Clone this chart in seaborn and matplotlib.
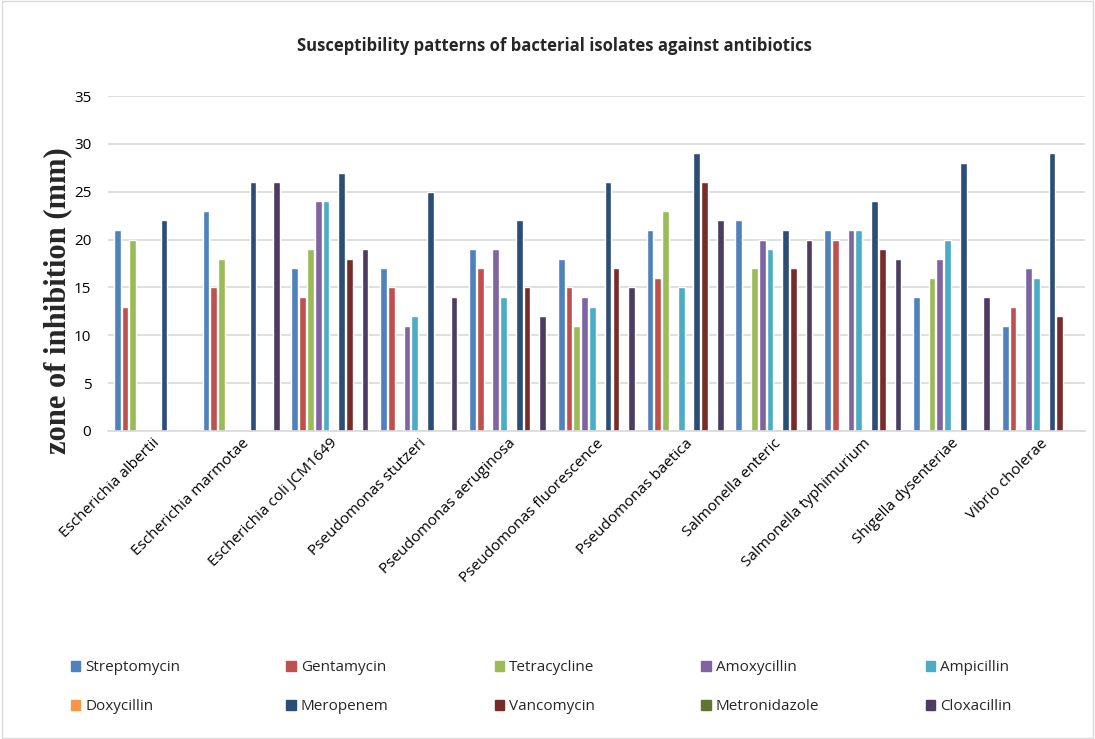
import pandas as pd
import matplotlib.pyplot as plt
import seaborn as sns
from matplotlib.patches import Rectangle

isolates = ["Escherichia albertii", "Escherichia marmotae", "Escherichia coli JCM1649",
            "Pseudomonas stutzeri", "Pseudomonas aeruginosa", "Pseudomonas fluorescence",
            "Pseudomonas baetica", "Salmonella enteric", "Salmonella typhimurium",
            "Shigella dysenteriae", "Vibrio cholerae"]

streptomycin = [21, 23, 17, 17, 19, 18, 21, 22, 21, 14, 11]
gentamycin = [13, 15, 14, 15, 17, 15, 16, 0, 20, 0, 13]
tetracycline = [20, 18, 19, 0, 0, 11, 23, 17, 0, 16, 0]
amoxycillin = [0, 0, 24, 11, 19, 14, 0, 20, 21, 18, 17]
ampicillin = [0, 0, 24, 12, 14, 13, 15, 19, 21, 20, 16]
doxycillin = [0, 0, 0, 0, 0, 0, 0, 0, 0, 0, 0]
meropenem = [22, 26, 27, 25, 22, 26, 29, 21, 24, 28, 29]
vancomycin = [0, 0, 18, 0, 15, 17, 26, 17, 19, 0, 12]
metronidazole = [0, 0, 0, 0, 0, 0, 0, 0, 0, 0, 0]
cloxacillin = [0, 26, 19, 14, 12, 15, 22, 20, 18, 14, 0]

antibiotics = ["Streptomycin", "Gentamycin", "Tetracycline", "Amoxycillin", "Ampicillin",
               "Doxycillin", "Meropenem", "Vancomycin", "Metronidazole", "Cloxacillin"]
series = [streptomycin, gentamycin, tetracycline, amoxycillin, ampicillin,
          doxycillin, meropenem, vancomycin, metronidazole, cloxacillin]
colors = ["#4F81BD", "#C0504D", "#9BBB59", "#8064A2", "#4BACC6",
          "#F79646", "#2C4D75", "#772C2A", "#5F7530", "#4D3B62"]

rows = []
for name, vals in zip(antibiotics, series):
    for iso, v in zip(isolates, vals):
        rows.append({"isolate": iso, "antibiotic": name, "zone": v})
df = pd.DataFrame(rows)

sns.set_style("white")
plt.rcParams['font.family'] = ['Open Sans', 'DejaVu Sans']

fig = plt.figure(figsize=(10.95, 7.39), dpi=100)
ax = fig.add_axes([0.0986, 0.4168, 0.892, 0.4532])

sns.barplot(data=df, x="isolate", y="zone", hue="antibiotic", hue_order=antibiotics,
            palette=colors, width=0.88, gap=0.14, saturation=1, ax=ax, legend=False)

ax.set_ylim(0, 35)
ax.set_yticks(range(0, 36, 5))
ax.yaxis.grid(True, color="#D9D9D9", linewidth=1.2)
ax.set_axisbelow(True)
for s in ["top", "right", "left"]:
    ax.spines[s].set_visible(False)
ax.spines["bottom"].set_color("#D9D9D9")
ax.spines["bottom"].set_linewidth(1.2)
ax.tick_params(axis="both", length=0, labelsize=11, colors="#000000")
ax.tick_params(axis="y", pad=12)
plt.setp(ax.get_xticklabels(), rotation=45, ha="right", rotation_mode="anchor")
ax.set_xlabel("")
ax.set_ylabel("zone of inhibition (mm)", family="Liberation Serif", fontweight="bold",
              fontsize=22)
ax.yaxis.set_label_coords(-0.037, 0.39)
ax.set_xlim(-0.5, len(isolates) - 0.5)

fig.text(0.506, 0.938, "Susceptibility patterns of bacterial isolates against antibiotics",
         ha="center", va="center", fontsize=12, fontweight="bold")

# legend fills column-first, so reorder to read row by row
order = [0, 5, 1, 6, 2, 7, 3, 8, 4, 9]
handles = [Rectangle((0, 0), 1, 1, color=colors[i]) for i in order]
labels = [antibiotics[i] for i in order]
fig.legend(handles, labels, loc="lower left", bbox_to_anchor=(0.052, 0.015),
           ncol=5, frameon=False, fontsize=11, handlelength=0.6, handleheight=0.6,
           handletextpad=0.35, columnspacing=6.95, labelspacing=1.55)

fig.patches.append(Rectangle((0.002, 0.002), 0.996, 0.996, transform=fig.transFigure,
                             fill=False, edgecolor="#D9D9D9", linewidth=1))

fig.savefig("out.png", dpi=100)
plt.close(fig)
